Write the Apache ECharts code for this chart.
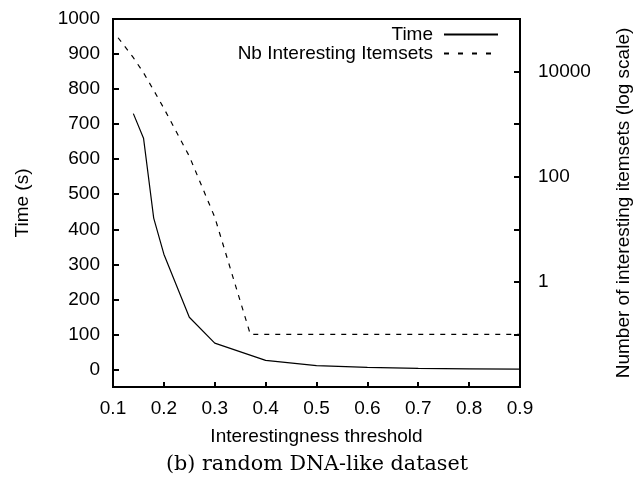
<!DOCTYPE html>
<html>
<head>
<meta charset="utf-8">
<script src="https://cdn.jsdelivr.net/npm/echarts@6/dist/echarts.min.js"></script>
<style>
  html, body { margin: 0; padding: 0; background: #fff; }
  #main { width: 634px; height: 480px; }
</style>
</head>
<body>
<div id="main"></div>
<script>
// threshold values for each series
var timeX = [0.14, 0.16, 0.18, 0.2, 0.25, 0.3, 0.4, 0.5, 0.6, 0.7, 0.8, 0.9];
var timeSec = [730, 660, 432, 329, 149, 75, 26, 11, 6, 3, 2, 1];

var itemsetsX = [0.11, 0.14, 0.16, 0.18, 0.2, 0.25, 0.3, 0.37, 0.4, 0.5, 0.6, 0.7, 0.8, 0.9];
var itemsetsCount = [44000, 18400, 9500, 4400, 2000, 245, 17, 0.1, 0.1, 0.1, 0.1, 0.1, 0.1, 0.1];

// tick labels
var leftTicks = [0, 100, 200, 300, 400, 500, 600, 700, 800, 900, 1000];
var rightLabels = [1, 100, 10000];

function pairs(xs, ys) {
  return xs.map(function (x, i) { return [x, ys[i]]; });
}

var font = 'Liberation Sans';
var myChart = echarts.init(document.getElementById('main'));
myChart.setOption({
  backgroundColor: '#fff',
  animation: false,
  textStyle: { fontFamily: font, color: '#000' },
  title: {
    text: '(b) random DNA-like dataset',
    left: 'center',
    top: 449,
    textStyle: { fontFamily: 'DejaVu Serif', fontWeight: 'normal', fontSize: 20.7, color: '#000' }
  },
  legend: {
    orient: 'vertical',
    align: 'right',
    right: 130,
    top: 20,
    itemWidth: 54,
    itemHeight: 14,
    itemGap: 0,
    itemStyle: { opacity: 0 },
    textStyle: { fontFamily: font, fontSize: 19, color: '#000', padding: [0, 6, 0, 0] },
    data: [
      { name: 'Time' },
      { name: 'Nb Interesting Itemsets', lineStyle: { type: [5, 9] } }
    ]
  },
  grid: {
    left: 113, right: 114, top: 19, bottom: 93,
    outerBoundsMode: 'none',
    show: true, borderColor: '#000', borderWidth: 2
  },
  xAxis: {
    type: 'value',
    min: 0.1, max: 0.9, interval: 0.1,
    name: 'Interestingness threshold',
    nameLocation: 'middle',
    nameGap: 40,
    nameTextStyle: { fontFamily: font, fontSize: 19, color: '#000' },
    axisLine: { show: false, onZero: false },
    axisTick: { inside: true, length: 5, lineStyle: { color: '#000', width: 2 } },
    axisLabel: {
      fontSize: 19, color: '#000', margin: 12,
      formatter: function (v) { return v.toFixed(1); }
    },
    splitLine: { show: false }
  },
  yAxis: [
    {
      type: 'value',
      min: -50, max: 1000,
      name: 'Time (s)',
      nameLocation: 'middle',
      nameGap: 81,
      nameTextStyle: { fontFamily: font, fontSize: 19, color: '#000' },
      axisLine: { show: false, onZero: false },
      axisTick: { inside: true, length: 6, customValues: leftTicks, lineStyle: { color: '#000', width: 2 } },
      axisLabel: {
        fontSize: 19, color: '#000', margin: 13, customValues: leftTicks,
        formatter: function (v) { return String(v); }
      },
      splitLine: { show: false }
    },
    {
      type: 'log',
      logBase: 10,
      min: 0.01, max: 100000, interval: 1,
      position: 'right',
      name: 'Number of interesting itemsets (log scale)',
      nameLocation: 'middle',
      nameRotate: 90,
      nameGap: 94,
      nameTextStyle: { fontFamily: font, fontSize: 19, color: '#000' },
      axisLine: { show: false, onZero: false },
      axisTick: { inside: true, length: 6, lineStyle: { color: '#000', width: 2 } },
      axisLabel: {
        fontSize: 19, color: '#000', margin: 18,
        formatter: function (v) {
          for (var i = 0; i < rightLabels.length; i++) {
            if (Math.abs(v - rightLabels[i]) < rightLabels[i] * 1e-6) return String(rightLabels[i]);
          }
          return '';
        }
      },
      splitLine: { show: false }
    }
  ],
  series: [
    {
      name: 'Time',
      type: 'line',
      yAxisIndex: 0,
      symbol: 'none',
      lineStyle: { color: '#000', width: 1.2 },
      itemStyle: { color: '#000' },
      data: pairs(timeX, timeSec)
    },
    {
      name: 'Nb Interesting Itemsets',
      type: 'line',
      yAxisIndex: 1,
      symbol: 'none',
      lineStyle: { color: '#000', width: 1.2, type: [5, 6] },
      itemStyle: { color: '#000' },
      data: pairs(itemsetsX, itemsetsCount)
    }
  ]
});
</script>
</body>
</html>
